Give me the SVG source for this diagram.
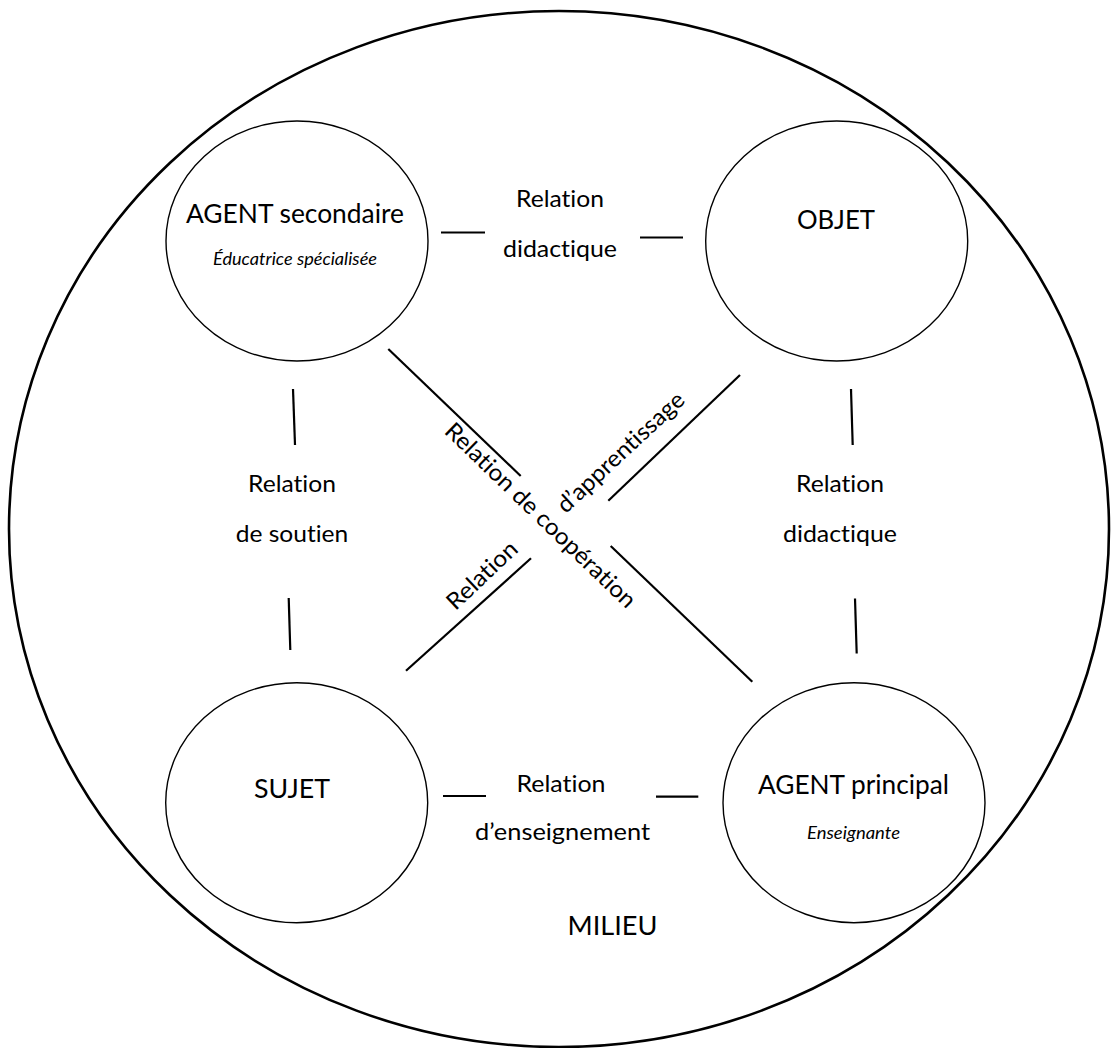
<svg xmlns="http://www.w3.org/2000/svg" width="1111" height="1048" viewBox="0 0 1111 1048">
  <style>
    .milieu { fill: none; stroke: #000; stroke-width: 2.6; }
    .node { fill: #fff; stroke: #000; stroke-width: 1.4; }
    .link { stroke: #000; stroke-width: 2.2; fill: none; stroke-linecap: butt; }
    text { font-family: Lato, "Open Sans", "Liberation Sans", sans-serif; fill: #000; text-anchor: middle;
           font-variant-ligatures: none; font-feature-settings: "liga" 0, "clig" 0, "dlig" 0; }
    .main { font-size: 26.5px; }
    .sub { font-size: 16.5px; font-style: italic; }
    .rel { font-size: 23.3px; }
  </style>

  <rect width="1111" height="1048" fill="#fff"/>

  <!-- surrounding environment -->
  <g id="milieu">
    <ellipse class="milieu" cx="559" cy="529" rx="550" ry="518"/>
    <text class="main" x="612.5" y="935" textLength="90" lengthAdjust="spacingAndGlyphs">MILIEU</text>
  </g>

  <!-- connectors and their labels -->
  <g id="connectors">
    <!-- top: secondary agent / object -->
    <line class="link" x1="441" y1="232.5" x2="485" y2="232.5"/>
    <line class="link" x1="640" y1="237.5" x2="683" y2="237.5"/>
    <text class="rel" x="560" y="207.3" textLength="88" lengthAdjust="spacingAndGlyphs">Relation</text>
    <text class="rel" x="560" y="257" textLength="114" lengthAdjust="spacingAndGlyphs">didactique</text>

    <!-- left: secondary agent / subject -->
    <line class="link" x1="293" y1="389" x2="295" y2="445"/>
    <line class="link" x1="288.7" y1="598" x2="290.3" y2="650"/>
    <text class="rel" x="292" y="491.7" textLength="88" lengthAdjust="spacingAndGlyphs">Relation</text>
    <text class="rel" x="292" y="541.7" textLength="112.6" lengthAdjust="spacingAndGlyphs">de soutien</text>

    <!-- right: object / main agent -->
    <line class="link" x1="851" y1="389" x2="852.7" y2="445"/>
    <line class="link" x1="855" y1="598.5" x2="856.7" y2="653.5"/>
    <text class="rel" x="840" y="491.7" textLength="88" lengthAdjust="spacingAndGlyphs">Relation</text>
    <text class="rel" x="840" y="541.7" textLength="114" lengthAdjust="spacingAndGlyphs">didactique</text>

    <!-- bottom: subject / main agent -->
    <line class="link" x1="443" y1="796" x2="486" y2="796"/>
    <line class="link" x1="656" y1="796.7" x2="698.3" y2="796.7"/>
    <text class="rel" x="561" y="791.7" textLength="89" lengthAdjust="spacingAndGlyphs">Relation</text>
    <text class="rel" x="562.5" y="840" textLength="175" lengthAdjust="spacingAndGlyphs">d’enseignement</text>

    <!-- diagonals -->
    <line class="link" x1="388.3" y1="349" x2="520.7" y2="476"/>
    <line class="link" x1="610.7" y1="546" x2="752.3" y2="681.7"/>
    <line class="link" x1="740" y1="375" x2="608.3" y2="500.7"/>
    <line class="link" x1="531" y1="558.3" x2="406" y2="670.7"/>
    <text class="rel" transform="translate(535 521) rotate(44)" textLength="255" lengthAdjust="spacingAndGlyphs">Relation de coopération</text>
    <text class="rel" transform="translate(626 458) rotate(-43)" textLength="165" lengthAdjust="spacingAndGlyphs">d’apprentissage</text>
    <text class="rel" transform="translate(487.5 581) rotate(-43.5)" textLength="88" lengthAdjust="spacingAndGlyphs">Relation</text>
  </g>

  <g id="agent-secondaire">
    <ellipse class="node" cx="297" cy="241" rx="131" ry="120"/>
    <text class="main" x="295" y="222.7" textLength="218" lengthAdjust="spacingAndGlyphs">AGENT secondaire</text>
    <text class="sub" x="295" y="265" textLength="164" lengthAdjust="spacingAndGlyphs">Éducatrice spécialisée</text>
  </g>

  <g id="objet">
    <ellipse class="node" cx="836.7" cy="241" rx="131" ry="120"/>
    <text class="main" x="836" y="229" textLength="78" lengthAdjust="spacingAndGlyphs">OBJET</text>
  </g>

  <g id="sujet">
    <ellipse class="node" cx="296.7" cy="802.7" rx="131" ry="120"/>
    <text class="main" x="292" y="797.7" textLength="76" lengthAdjust="spacingAndGlyphs">SUJET</text>
  </g>

  <g id="agent-principal">
    <ellipse class="node" cx="854" cy="802.7" rx="131" ry="120"/>
    <text class="main" x="853.5" y="794" textLength="191" lengthAdjust="spacingAndGlyphs">AGENT principal</text>
    <text class="sub" x="853.5" y="839" textLength="93" lengthAdjust="spacingAndGlyphs">Enseignante</text>
  </g>
</svg>
